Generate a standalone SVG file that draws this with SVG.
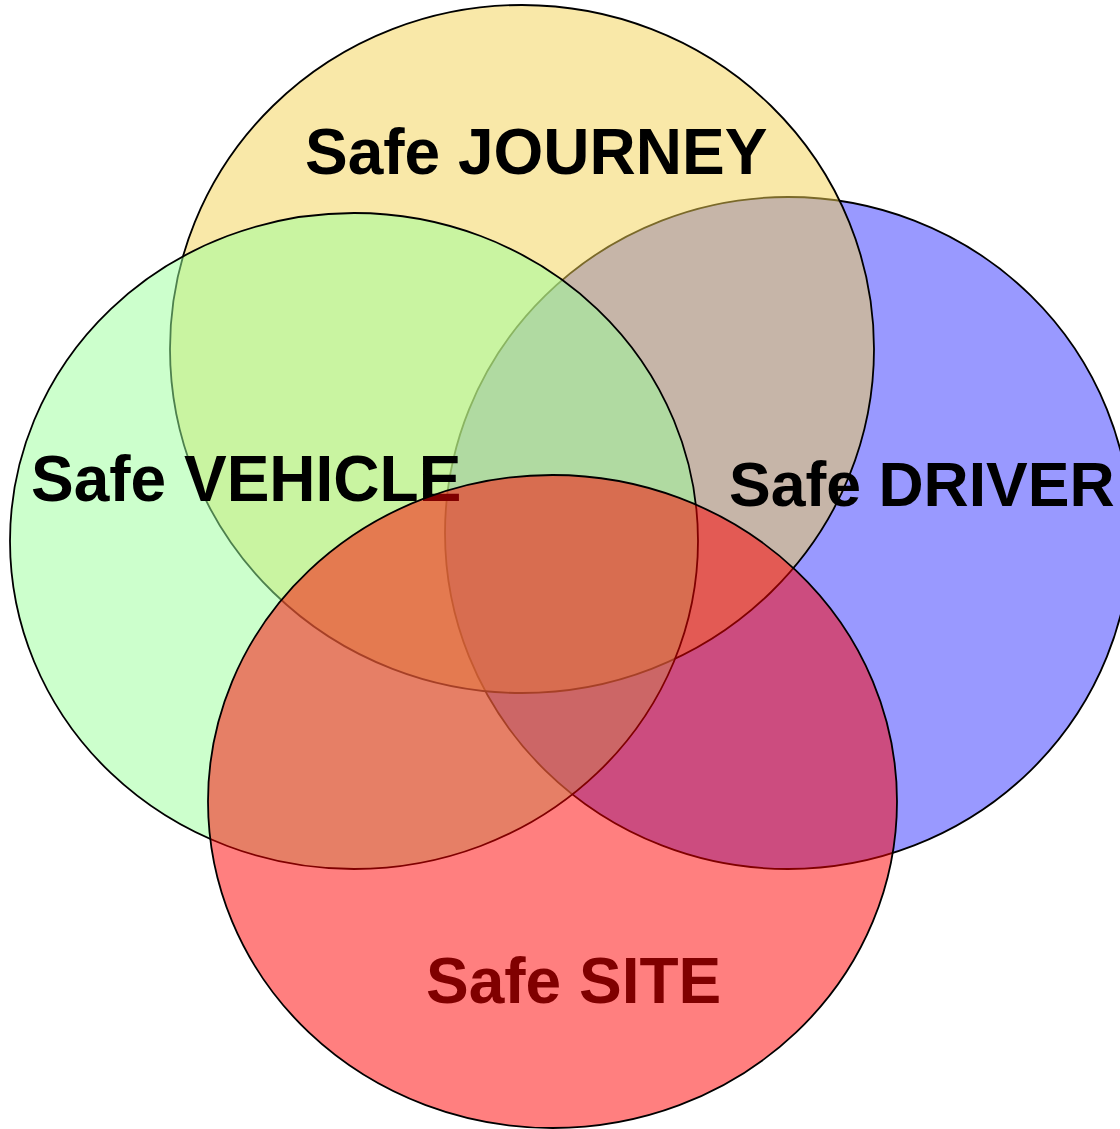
<svg xmlns="http://www.w3.org/2000/svg" width="1120" height="1129" viewBox="0 0 1120 1129">
  <style>
    .set { stroke: #000; stroke-width: 1.8; fill-opacity: 0.5; }
    .label { font-family: "Liberation Sans", Arial, sans-serif; font-weight: bold; font-size: 64px; fill: #000; }
  </style>
  <rect width="1120" height="1129" fill="#fff"/>

  <!-- Safe DRIVER -->
  <g id="driver">
    <ellipse class="set" cx="788" cy="533" rx="343" ry="336" fill="#3333FF"/>
  </g>

  <!-- Safe JOURNEY -->
  <g id="journey">
    <ellipse class="set" cx="522" cy="349" rx="352" ry="344" fill="#F3D151"/>
  </g>

  <!-- Safe VEHICLE -->
  <g id="vehicle">
    <ellipse class="set" cx="354" cy="541" rx="344" ry="328" fill="#99FF99"/>
    <text class="label" x="31" y="501">Safe VEHICLE</text>
  </g>

  <!-- Safe SITE -->
  <g id="site">
    <ellipse class="set" cx="552.5" cy="801.5" rx="344.5" ry="326.5" fill="#FF0000"/>
    <text class="label" x="426" y="1003" style="fill:#800000">Safe SITE</text>
  </g>

  <!-- labels drawn above all sets -->
  <g id="labels">
    <text class="label" x="305" y="174">Safe JOURNEY</text>
    <text class="label" x="729" y="506" style="font-size:62.5px">Safe DRIVER</text>
  </g>

  <g id="connectors"/>
</svg>
